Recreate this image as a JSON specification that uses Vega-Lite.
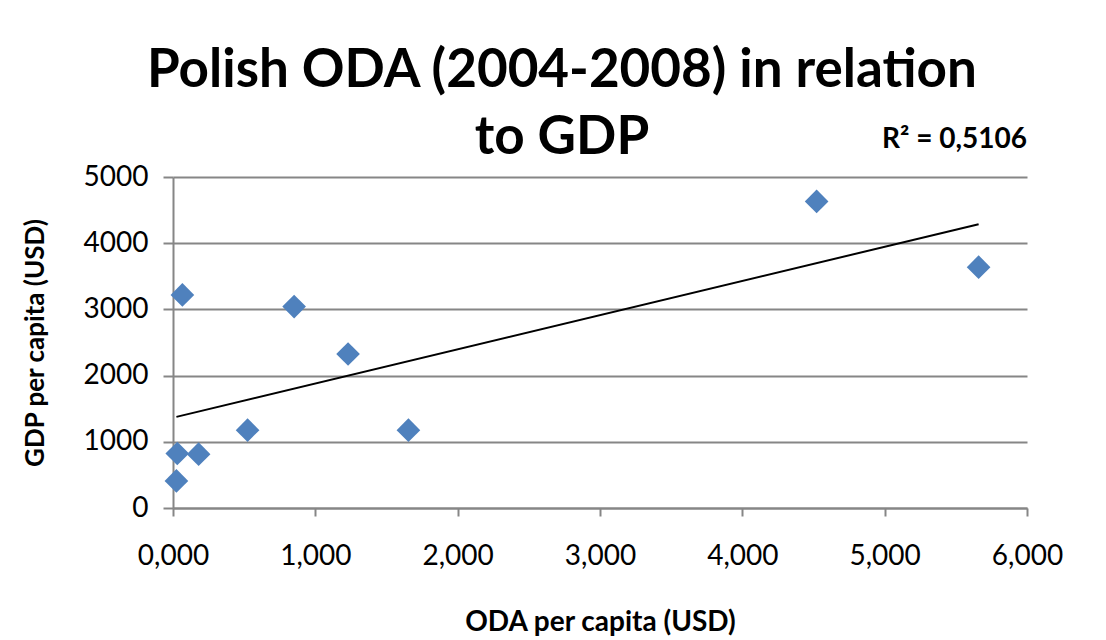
{
  "$schema": "https://vega.github.io/schema/vega-lite/v6.json",
  "width": 854,
  "height": 331,
  "autosize": {"type": "none"},
  "padding": {"left": 173, "top": 177, "right": 79, "bottom": 132},
  "background": "white",
  "title": {
    "text": ["Polish ODA (2004-2008) in relation", "to GDP"],
    "font": "Lato",
    "fontSize": 53,
    "fontWeight": "bold",
    "color": "black",
    "anchor": "middle",
    "dx": -38,
    "lineHeight": 67,
    "offset": -39
  },
  "data": {
    "values": [
      {"oda": 0.024, "gdp": 409},
      {"oda": 0.030, "gdp": 823},
      {"oda": 0.066, "gdp": 3219},
      {"oda": 0.180, "gdp": 813},
      {"oda": 0.524, "gdp": 1176},
      {"oda": 0.851, "gdp": 3042},
      {"oda": 1.230, "gdp": 2326},
      {"oda": 1.654, "gdp": 1176},
      {"oda": 4.522, "gdp": 4631},
      {"oda": 5.660, "gdp": 3638}
    ]
  },
  "layer": [
    {
      "mark": {"type": "point", "shape": "diamond", "filled": true, "size": 560, "color": "#4F81BD", "opacity": 1},
      "encoding": {
        "x": {
          "field": "oda",
          "type": "quantitative",
          "scale": {"domain": [0, 6], "nice": false, "zero": true},
          "axis": {
            "values": [0, 1, 2, 3, 4, 5, 6],
            "labelExpr": "replace(format(datum.value, '.3f'), '.', ',')",
            "labelFlush": false,
            "grid": false,
            "tickSize": 8,
            "labelPadding": 26,
            "title": "ODA per capita (USD)",
            "titleFontSize": 28,
            "titlePadding": 38
          }
        },
        "y": {
          "field": "gdp",
          "type": "quantitative",
          "scale": {"domain": [0, 5000], "nice": false},
          "axis": {
            "values": [0, 1000, 2000, 3000, 4000, 5000],
            "format": "d",
            "grid": true,
            "tickSize": 10,
            "labelPadding": 15,
            "labelFlush": false,
            "title": "GDP per capita (USD)",
            "titleX": -125
          }
        }
      }
    },
    {
      "transform": [{"regression": "gdp", "on": "oda", "method": "linear"}],
      "mark": {"type": "line", "color": "black", "strokeWidth": 2},
      "encoding": {
        "x": {"field": "oda", "type": "quantitative"},
        "y": {"field": "gdp", "type": "quantitative"}
      }
    },
    {
      "data": {"values": [{"oda": 6, "gdp": 5560, "label": "R² = 0,5106"}]},
      "mark": {"type": "text", "align": "right", "baseline": "middle", "font": "Lato", "fontSize": 28, "fontWeight": "bold", "color": "black", "clip": false},
      "encoding": {
        "x": {"field": "oda", "type": "quantitative"},
        "y": {"field": "gdp", "type": "quantitative"},
        "text": {"field": "label"}
      }
    }
  ],
  "config": {
    "view": {"stroke": null},
    "axis": {
      "domainColor": "#868686",
      "domainWidth": 2,
      "tickColor": "#868686",
      "tickWidth": 2,
      "gridColor": "#868686",
      "gridWidth": 2,
      "labelFont": "Lato",
      "labelFontSize": 28,
      "labelColor": "black",
      "titleFont": "Lato",
      "titleFontSize": 26,
      "titleFontWeight": "bold",
      "titleColor": "black"
    }
  }
}
